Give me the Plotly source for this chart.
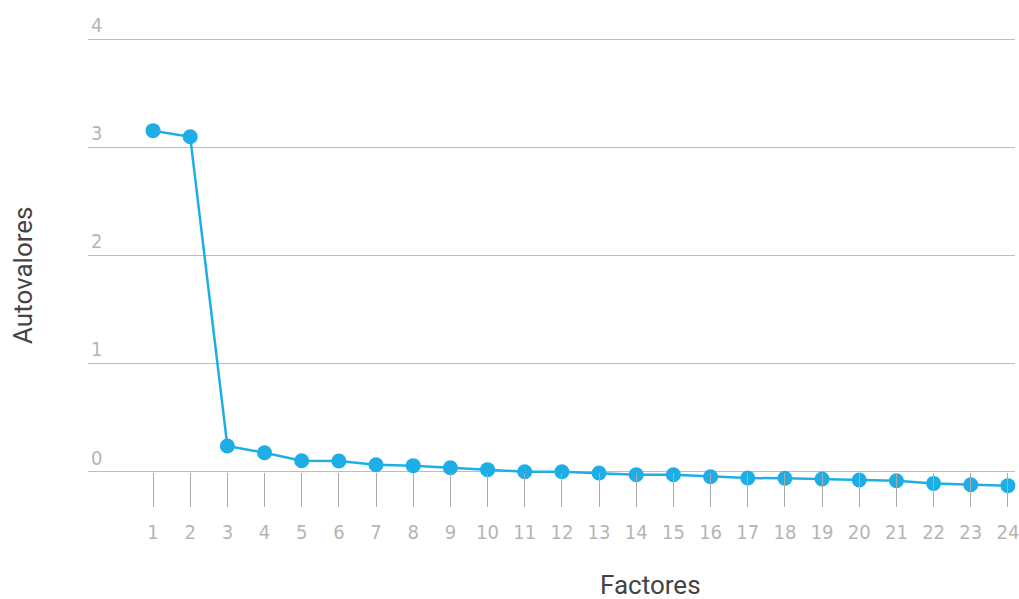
import plotly.graph_objects as go

factores = list(range(1, 25))
autovalores = [3.153, 3.097, 0.236, 0.174, 0.100, 0.097, 0.063, 0.054, 0.035, 0.017,
               -0.002, -0.002, -0.014, -0.030, -0.030, -0.048, -0.060, -0.063, -0.069,
               -0.079, -0.085, -0.110, -0.122, -0.131]
y_ticks = [0, 1, 2, 3, 4]

line_color = "#1daee6"
tick_font = dict(family="DejaVu Sans Condensed, Roboto, sans-serif",
                 size=20, color="#b5b5b5", weight=300)

# pixel layout: plot top 5, bottom 493
top_px, bot_px, zero_px, unit_px = 5, 493, 471.5, 108.1
ymax = (zero_px - top_px) / unit_px
ymin = ymax - (bot_px - top_px) / unit_px
plot_h = bot_px - top_px

fig = go.Figure()
fig.add_trace(go.Scatter(
    x=factores, y=autovalores, mode="lines+markers",
    line=dict(color=line_color, width=2.5),
    marker=dict(color=line_color, size=15),
    cliponaxis=False, showlegend=False,
))

fig.update_layout(
    width=1019, height=599,
    margin=dict(l=88, r=4, t=top_px, b=599 - bot_px),
    paper_bgcolor="white", plot_bgcolor="white",
    xaxis=dict(
        range=[-0.749, 24.19], automargin=False,
        tickvals=factores, ticktext=[str(v) for v in factores],
        showgrid=False, zeroline=False, showline=False,
        ticks="outside", ticklen=34, tickcolor="#aaaaaa", tickwidth=1,
        tickfont=tick_font, ticklabelstandoff=8, ticklabeloverflow="allow",
        anchor="free", position=(0 - ymin) / (ymax - ymin),
    ),
    yaxis=dict(
        range=[ymin, ymax], automargin=False,
        tickvals=y_ticks, ticktext=[str(v) for v in y_ticks],
        showgrid=True, gridcolor="#bdbdbd", gridwidth=1,
        zeroline=False, showline=False, ticks="",
        ticklabelposition="inside top", tickfont=tick_font,
    ),
    annotations=[
        dict(text="Factores", xref="paper", yref="paper", x=(650 - 88) / 927,
             y=(bot_px - 585) / plot_h,
             xanchor="center", yanchor="middle", showarrow=False,
             font=dict(family="Roboto, sans-serif", size=26, color="#444444")),
        dict(text="Autovalores", xref="paper", yref="paper", x=(23 - 88) / 927,
             y=(bot_px - 275) / plot_h,
             xanchor="center", yanchor="middle", showarrow=False, textangle=-90,
             font=dict(family="Roboto, sans-serif", size=26, color="#444444")),
    ],
)

fig.write_html("out.html", config={"displayModeBar": False},
               post_script="document.body.style.margin='0';")
